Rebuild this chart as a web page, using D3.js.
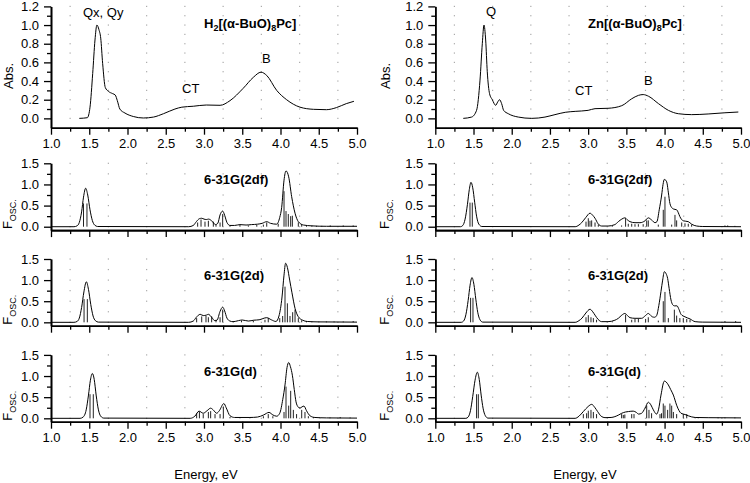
<!DOCTYPE html>
<html><head><meta charset="utf-8">
<script src="https://cdn.jsdelivr.net/npm/d3@7"></script>
<style>
body{margin:0;background:#fff}
text{font-family:Arial,"Liberation Sans",sans-serif;fill:#000}
</style></head>
<body><svg id="c" width="750" height="483"></svg>
<script>
// ---------- data ----------
const energyTicks = [1.0,1.5,2.0,2.5,3.0,3.5,4.0,4.5,5.0];
const energyMinor = [1.25,1.75,2.25,2.75,3.25,3.75,4.25,4.75];
const absTicks = [0,0.2,0.4,0.6,0.8,1.0,1.2];
const absMinor = [0.1,0.3,0.5,0.7,0.9,1.1];
const foscTicks = [0,0.5,1.0,1.5];
const foscMinor = [0.25,0.75,1.25];

const absH2 = [[1.37,0],[1.475,0.007],[1.51,0.12],[1.545,0.48],[1.575,0.84],[1.60,1.0],[1.627,0.95],[1.65,0.86],[1.675,0.59],[1.71,0.33],[1.75,0.29],[1.806,0.265],[1.84,0.25],[1.867,0.19],[1.90,0.10],[1.967,0.057],[2.076,0.02],[2.207,0.004],[2.34,0.014],[2.47,0.05],[2.62,0.10],[2.71,0.12],[2.86,0.13],[3.03,0.143],[3.21,0.14],[3.34,0.19],[3.51,0.32],[3.645,0.44],[3.745,0.495],[3.82,0.46],[3.95,0.30],[4.08,0.20],[4.255,0.12],[4.43,0.097],[4.60,0.093],[4.73,0.115],[4.86,0.158],[4.96,0.183]];
const absZn = [[1.366,0],[1.475,0.014],[1.54,0.086],[1.585,0.41],[1.615,0.80],[1.637,1.0],[1.659,0.84],[1.68,0.50],[1.71,0.265],[1.746,0.20],[1.79,0.14],[1.816,0.175],[1.84,0.20],[1.868,0.158],[1.894,0.086],[1.955,0.05],[2.086,0.014],[2.26,0.0],[2.435,0.014],[2.566,0.04],[2.70,0.065],[2.83,0.075],[3.00,0.086],[3.09,0.104],[3.26,0.108],[3.44,0.136],[3.57,0.21],[3.66,0.247],[3.72,0.255],[3.79,0.237],[3.92,0.158],[4.05,0.086],[4.18,0.05],[4.354,0.04],[4.57,0.047],[4.79,0.06],[4.965,0.068]];

// convolved spectra (envelopes)
const envH2_2df = [[1.0,0],[1.3,0],[1.34,0.02],[1.37,0.1],[1.4,0.35],[1.425,0.7],[1.453,0.91],[1.48,0.75],[1.51,0.4],[1.54,0.15],[1.57,0.04],[1.61,0.005],[2.8,0],[2.86,0.03],[2.9,0.12],[2.94,0.19],[2.97,0.2],[3.0,0.18],[3.03,0.17],[3.06,0.18],[3.1,0.14],[3.15,0.05],[3.18,0.08],[3.21,0.28],[3.244,0.37],[3.27,0.27],[3.3,0.1],[3.34,0.03],[3.4,0.03],[3.47,0.05],[3.55,0.04],[3.62,0.05],[3.7,0.06],[3.76,0.08],[3.82,0.12],[3.87,0.08],[3.95,0.06],[3.99,0.22],[4.015,0.45],[4.046,1.1],[4.072,1.32],[4.107,1.18],[4.146,0.71],[4.19,0.32],[4.233,0.12],[4.3,0.04],[4.41,0.02],[4.6,0.01],[5.0,0.01]];
const envH2_2d = [[1.0,0],[1.3,0],[1.34,0.02],[1.37,0.1],[1.4,0.35],[1.43,0.72],[1.462,0.96],[1.49,0.78],[1.52,0.42],[1.55,0.15],[1.58,0.04],[1.62,0.005],[2.8,0],[2.86,0.03],[2.9,0.12],[2.95,0.19],[2.99,0.16],[3.03,0.17],[3.057,0.19],[3.1,0.12],[3.14,0.04],[3.17,0.05],[3.21,0.26],[3.244,0.36],[3.27,0.27],[3.3,0.1],[3.34,0.03],[3.38,0.015],[3.45,0.04],[3.5,0.055],[3.58,0.03],[3.65,0.05],[3.72,0.06],[3.82,0.11],[3.88,0.06],[3.94,0.02],[3.98,0.15],[4.02,0.6],[4.045,1.1],[4.067,1.4],[4.09,1.3],[4.12,1.0],[4.15,0.7],[4.19,0.33],[4.23,0.14],[4.29,0.05],[4.35,0.02],[4.5,0.01],[5.0,0.005]];
const envH2_d = [[1.0,0],[1.38,0],[1.42,0.03],[1.46,0.2],[1.49,0.55],[1.515,0.9],[1.54,1.06],[1.565,0.92],[1.59,0.55],[1.62,0.2],[1.65,0.05],[1.69,0.005],[2.82,0],[2.88,0.05],[2.935,0.17],[2.99,0.12],[3.04,0.18],[3.087,0.24],[3.12,0.2],[3.166,0.12],[3.2,0.18],[3.26,0.35],[3.29,0.25],[3.34,0.06],[3.4,0.02],[3.6,0.02],[3.7,0.03],[3.78,0.08],[3.85,0.14],[3.9,0.08],[3.95,0.05],[3.99,0.12],[4.03,0.45],[4.059,0.79],[4.085,1.2],[4.107,1.32],[4.13,1.22],[4.155,1.02],[4.18,0.68],[4.203,0.39],[4.23,0.27],[4.255,0.24],[4.28,0.27],[4.307,0.29],[4.34,0.18],[4.386,0.06],[4.45,0.02],[4.6,0.01],[5.0,0.005]];
const envZn_2df = [[1.0,0],[1.33,0],[1.36,0.03],[1.39,0.18],[1.42,0.52],[1.445,0.88],[1.467,1.05],[1.49,0.92],[1.515,0.58],[1.54,0.25],[1.57,0.06],[1.61,0.005],[2.83,0],[2.88,0.04],[2.915,0.095],[2.97,0.22],[3.024,0.32],[3.06,0.27],[3.09,0.2],[3.13,0.07],[3.177,0.016],[3.26,0.016],[3.35,0.05],[3.395,0.12],[3.44,0.18],[3.48,0.21],[3.515,0.16],[3.547,0.12],[3.613,0.095],[3.678,0.095],[3.744,0.14],[3.787,0.21],[3.83,0.16],[3.875,0.095],[3.9,0.12],[3.93,0.4],[3.962,0.75],[3.98,1.0],[3.997,1.12],[4.015,1.1],[4.032,1.03],[4.05,0.8],[4.07,0.55],[4.095,0.45],[4.115,0.42],[4.158,0.4],[4.18,0.33],[4.2,0.24],[4.245,0.14],[4.31,0.12],[4.354,0.06],[4.42,0.016],[4.5,0.005],[5.0,0]];
const envZn_2d = [[1.0,0],[1.34,0],[1.37,0.03],[1.4,0.18],[1.43,0.52],[1.455,0.88],[1.48,1.06],[1.505,0.9],[1.53,0.55],[1.555,0.24],[1.585,0.06],[1.62,0.005],[2.83,0],[2.88,0.04],[2.92,0.1],[2.97,0.22],[3.024,0.31],[3.06,0.25],[3.09,0.17],[3.13,0.07],[3.177,0.016],[3.26,0.016],[3.35,0.05],[3.395,0.095],[3.44,0.17],[3.48,0.21],[3.515,0.16],[3.547,0.11],[3.613,0.095],[3.7,0.095],[3.75,0.16],[3.787,0.21],[3.82,0.16],[3.84,0.13],[3.87,0.12],[3.896,0.16],[3.925,0.4],[3.953,0.73],[3.975,1.0],[3.997,1.2],[4.02,1.15],[4.04,1.04],[4.06,0.8],[4.084,0.53],[4.105,0.42],[4.128,0.39],[4.162,0.39],[4.19,0.3],[4.215,0.19],[4.267,0.13],[4.333,0.08],[4.4,0.016],[4.5,0.005],[5.0,0]];
const envZn_d = [[1.0,0],[1.4,0],[1.43,0.03],[1.46,0.18],[1.49,0.52],[1.52,0.9],[1.55,1.09],[1.575,0.92],[1.6,0.55],[1.625,0.24],[1.655,0.06],[1.69,0.005],[2.83,0],[2.88,0.05],[2.937,0.16],[3.0,0.28],[3.046,0.33],[3.09,0.25],[3.124,0.16],[3.17,0.05],[3.22,0.016],[3.3,0.02],[3.35,0.04],[3.4,0.08],[3.44,0.12],[3.49,0.15],[3.527,0.16],[3.59,0.17],[3.63,0.14],[3.66,0.1],[3.7,0.12],[3.744,0.24],[3.787,0.38],[3.82,0.32],[3.853,0.2],[3.896,0.1],[3.92,0.2],[3.953,0.55],[3.997,0.88],[4.02,0.86],[4.049,0.79],[4.08,0.68],[4.115,0.55],[4.158,0.31],[4.19,0.18],[4.215,0.12],[4.267,0.09],[4.31,0.06],[4.4,0.02],[4.57,0.015],[5.0,0.01]];

// oscillator strengths (sticks)
const stkH2_2df = [[1.425,0.55],[1.47,0.55],[2.917,0.10],[2.961,0.17],[3.013,0.12],[3.057,0.14],[3.122,0.12],[3.157,0.05],[3.21,0.10],[3.244,0.30],[3.34,0.03],[3.47,0.04],[3.58,0.03],[3.69,0.04],[3.776,0.05],[3.82,0.10],[3.97,0.07],[4.046,0.84],[4.072,0.37],[4.102,0.30],[4.133,0.25],[4.155,0.26],[4.233,0.10],[4.277,0.05],[4.34,0.03],[4.41,0.03],[4.47,0.02],[4.54,0.02],[4.65,0.03],[4.82,0.03],[4.95,0.03]];
const stkH2_2d = [[1.432,0.55],[1.475,0.55],[2.904,0.1],[2.97,0.14],[3.026,0.15],[3.057,0.12],[3.1,0.14],[3.157,0.06],[3.21,0.12],[3.244,0.3],[3.383,0.03],[3.49,0.04],[3.645,0.04],[3.797,0.06],[3.84,0.1],[3.99,0.1],[4.028,0.15],[4.059,0.845],[4.09,0.45],[4.124,0.15],[4.159,0.24],[4.19,0.3],[4.233,0.1],[4.277,0.05],[4.34,0.03],[4.41,0.02],[4.5,0.02],[4.6,0.02],[4.7,0.02],[4.82,0.02],[4.95,0.03]];
const stkH2_d = [[1.51,0.57],[1.553,0.57],[2.904,0.12],[2.94,0.15],[2.99,0.1],[3.057,0.15],[3.087,0.17],[3.144,0.1],[3.21,0.1],[3.253,0.28],[3.34,0.03],[3.47,0.02],[3.6,0.03],[3.776,0.05],[3.84,0.1],[3.9,0.05],[4.046,0.15],[4.072,0.75],[4.107,0.3],[4.133,0.65],[4.168,0.2],[4.21,0.1],[4.277,0.2],[4.32,0.15],[4.364,0.05],[4.43,0.03],[4.516,0.02],[4.647,0.02],[4.78,0.03],[4.91,0.02]];
const stkZn_2df = [[1.454,0.57],[1.484,0.57],[2.972,0.12],[3.002,0.2],[3.024,0.14],[3.046,0.15],[3.09,0.1],[3.133,0.05],[3.316,0.02],[3.438,0.03],[3.49,0.2],[3.525,0.07],[3.57,0.07],[3.613,0.06],[3.657,0.06],[3.72,0.06],[3.766,0.15],[3.787,0.15],[3.918,0.05],[3.983,0.4],[4.005,0.71],[4.093,0.05],[4.136,0.28],[4.158,0.15],[4.224,0.1],[4.267,0.08],[4.31,0.07],[4.354,0.05],[4.79,0.03],[4.826,0.03],[4.92,0.02]];
const stkZn_2d = [[1.462,0.58],[1.493,0.58],[2.972,0.12],[3.002,0.17],[3.037,0.12],[3.068,0.1],[3.11,0.06],[3.316,0.02],[3.49,0.18],[3.57,0.06],[3.613,0.08],[3.657,0.08],[3.752,0.08],[3.787,0.12],[3.918,0.04],[3.983,0.5],[4.005,0.72],[4.049,0.1],[4.128,0.3],[4.158,0.16],[4.2,0.1],[4.245,0.1],[4.29,0.08],[4.333,0.06],[4.79,0.03],[4.93,0.03]];
const stkZn_d = [[1.54,0.57],[1.563,0.57],[2.937,0.1],[2.98,0.12],[3.002,0.18],[3.037,0.2],[3.068,0.15],[3.11,0.1],[3.438,0.1],[3.46,0.08],[3.48,0.09],[3.57,0.1],[3.6,0.1],[3.766,0.3],[3.796,0.2],[3.83,0.12],[3.94,0.1],[3.96,0.12],[3.983,0.35],[4.005,0.3],[4.04,0.2],[4.07,0.35],[4.093,0.3],[4.115,0.15],[4.158,0.1],[4.245,0.1],[4.29,0.1],[4.4,0.02],[4.44,0.02],[4.7,0.02],[4.79,0.02],[4.92,0.02]];

// ---------- layout ----------
const svg = d3.select('#c');
const cols = [{x0:51, x1:357}, {x0:435.3, x1:741}];
const rows = [
  {dom:[-0.1,1.2], y0:127.7, y1:6.4, ticks:absTicks, minor:absMinor, grid:[0,...absMinor,...absTicks.slice(1)].sort((a,b)=>a-b)},
  {dom:[-0.08,1.5], y0:230.1, y1:163.3, ticks:foscTicks, minor:foscMinor, grid:[0,0.25,0.5,0.75,1,1.25,1.5]},
  {dom:[-0.08,1.5], y0:325.7, y1:259, ticks:foscTicks, minor:foscMinor, grid:[0,0.25,0.5,0.75,1,1.25,1.5]},
  {dom:[-0.08,1.5], y0:421.7, y1:354.9, ticks:foscTicks, minor:foscMinor, grid:[0,0.25,0.5,0.75,1,1.25,1.5]}
];
const panels = [
  {c:0,r:0,curve:absH2},{c:1,r:0,curve:absZn},
  {c:0,r:1,env:envH2_2df,stk:stkH2_2df,title:'6-31G(2df)'},
  {c:1,r:1,env:envZn_2df,stk:stkZn_2df,title:'6-31G(2df)'},
  {c:0,r:2,env:envH2_2d,stk:stkH2_2d,title:'6-31G(2d)'},
  {c:1,r:2,env:envZn_2d,stk:stkZn_2d,title:'6-31G(2d)'},
  {c:0,r:3,env:envH2_d,stk:stkH2_d,title:'6-31G(d)'},
  {c:1,r:3,env:envZn_d,stk:stkZn_d,title:'6-31G(d)'}
];
const fmt = d3.format('.1f');

panels.forEach(p => {
  const C = cols[p.c], R = rows[p.r];
  const x = d3.scaleLinear().domain([1,5]).range([C.x0, C.x1]);
  const y = d3.scaleLinear().domain(R.dom).range([R.y0, R.y1]);
  const g = svg.append('g');

  // dotted grid (points at minor-tick intersections)
  const pts = [];
  energyMinor.forEach(e => R.grid.forEach(v => pts.push([e, v])));
  g.selectAll('rect.gd').data(pts).join('rect').attr('class','gd')
    .attr('x', d => x(d[0]) - 0.6).attr('y', d => y(d[1]) - 0.6)
    .attr('width', 1.2).attr('height', 1.2).attr('fill', '#aaaaaa');

  // axes
  const showX = (p.r === 0 || p.r === 3);
  const xa = g.append('g').attr('transform', `translate(0,${R.y0})`)
    .call(d3.axisBottom(x).tickValues(energyTicks).tickSize(7).tickSizeOuter(0).tickPadding(4)
      .tickFormat(showX ? fmt : () => ''));
  const xm = g.append('g').attr('transform', `translate(0,${R.y0})`)
    .call(d3.axisBottom(x).tickValues(energyMinor).tickSize(4).tickSizeOuter(0).tickFormat(() => ''));
  const ya = g.append('g').attr('transform', `translate(${C.x0},0)`)
    .call(d3.axisLeft(y).tickValues(R.ticks).tickSize(7).tickSizeOuter(0).tickPadding(5).tickFormat(fmt));
  const ym = g.append('g').attr('transform', `translate(${C.x0},0)`)
    .call(d3.axisLeft(y).tickValues(R.minor).tickSize(4).tickSizeOuter(0).tickFormat(() => ''));
  [xa, xm, ya, ym].forEach(a => {
    a.select('.domain').attr('stroke', '#000').attr('stroke-width', 1.6);
    a.selectAll('.tick line').attr('stroke', '#000').attr('stroke-width', 1.3);
    a.selectAll('.tick text').attr('font-size', 13).attr('fill', '#000')
      .attr('font-family', 'Arial, "Liberation Sans", sans-serif');
  });

  if (p.curve) {
    g.append('path').datum(p.curve)
      .attr('d', d3.line().x(d => x(d[0])).y(d => y(d[1])).curve(d3.curveMonotoneX))
      .attr('fill', 'none').attr('stroke', '#000').attr('stroke-width', 1);
  } else {
    g.selectAll('line.stk').data(p.stk).join('line').attr('class','stk')
      .attr('x1', d => x(d[0])).attr('x2', d => x(d[0]))
      .attr('y1', y(0)).attr('y2', d => y(d[1]))
      .attr('stroke', '#222').attr('stroke-width', 1);
    g.append('path').datum(p.env)
      .attr('d', d3.line().x(d => x(d[0])).y(d => y(d[1])).curve(d3.curveMonotoneX))
      .attr('fill', 'none').attr('stroke', '#000').attr('stroke-width', 1);
    g.append('text').attr('x', p.c === 0 ? 204 : 588).attr('y', R.y1 + 21)
      .attr('font-size', 13).attr('font-weight', 'bold').text(p.title);
    // F_OSC label
    const lx = p.c === 0 ? 12 : 389;
    const t = g.append('text').attr('transform', `translate(${lx},${R.y0 - 1}) rotate(-90)`)
      .attr('font-size', 13);
    t.append('tspan').text('F');
    t.append('tspan').attr('font-size', 9).attr('dy', 4).text('OSC.');
  }
});

// top panel labels
function rotLabel(x, y, txt) {
  svg.append('text').attr('transform', `translate(${x},${y}) rotate(-90)`)
    .attr('text-anchor', 'middle').attr('font-size', 13).text(txt);
}
rotLabel(13, 76, 'Abs.');
rotLabel(390, 76, 'Abs.');

function formula(x, y, parts) {
  const t = svg.append('text').attr('x', x).attr('y', y).attr('font-size', 13).attr('font-weight', 'bold');
  let low = false;
  parts.forEach(([s, sub]) => {
    const ts = t.append('tspan').text(s);
    if (sub) { ts.attr('font-size', 9).attr('dy', low ? 0 : 3); low = true; }
    else { ts.attr('dy', low ? -3 : 0); low = false; }
  });
}
formula(204, 28, [['H',0],['2',1],['[(α-BuO)',0],['8',1],['Pc]',0]]);
formula(588, 28, [['Zn[(α-BuO)',0],['8',1],['Pc]',0]]);

const notes = [
  [83, 17, 'Qx, Qy'], [182, 93, 'CT'], [262, 63, 'B'],
  [486, 16, 'Q'], [575, 95, 'CT'], [644, 85, 'B']
];
svg.selectAll('text.note').data(notes).join('text').attr('class','note')
  .attr('x', d => d[0]).attr('y', d => d[1]).attr('font-size', 13).text(d => d[2]);

svg.append('text').attr('x', 206).attr('y', 479).attr('text-anchor','middle').attr('font-size', 13).text('Energy, eV');
svg.append('text').attr('x', 585).attr('y', 479).attr('text-anchor','middle').attr('font-size', 13).text('Energy, eV');
</script></body></html>
